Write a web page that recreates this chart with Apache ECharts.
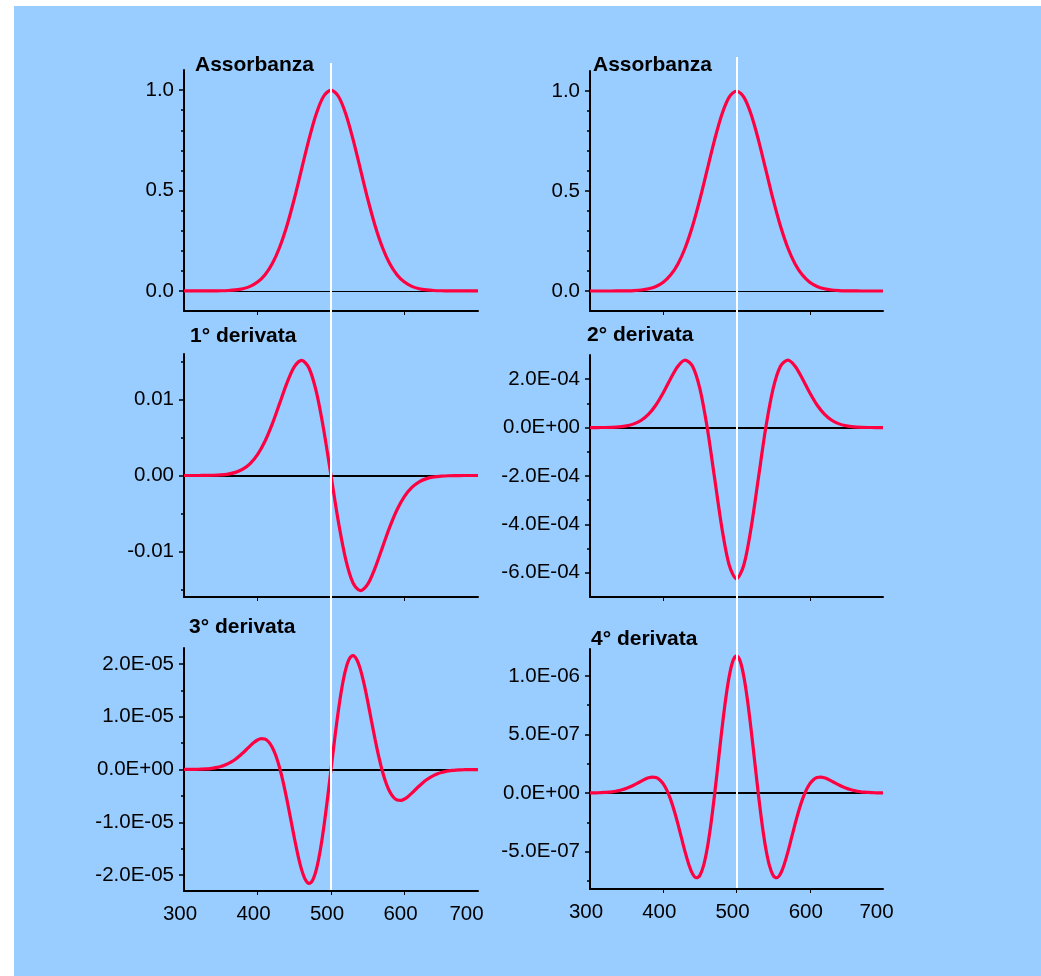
<!DOCTYPE html>
<html><head><meta charset="utf-8">
<script src="https://cdn.jsdelivr.net/npm/echarts@6/dist/echarts.min.js"></script>
<style>
html,body{margin:0;padding:0;background:#fff;}
#chart{position:absolute;left:14px;top:6px;width:1027px;height:970px;}
</style></head><body><div id="chart"></div>
<script>
// ---- data (wavelength, nm) ----
// 10 nm grid for absorbance, 1st and 2nd derivative
const wavelengths10 = [300,310,320,330,340,350,360,370,380,390,400,410,420,430,440,450,460,470,480,490,500,
  510,520,530,540,550,560,570,580,590,600,610,620,630,640,650,660,670,680,690,700];
// 5 nm grid for 3rd and 4th derivative (sharper features)
const wavelengths5 = [300,305,310,315,320,325,330,335,340,345,350,355,360,365,370,375,380,385,390,395,400,
  405,410,415,420,425,430,435,440,445,450,455,460,465,470,475,480,485,490,495,500,
  505,510,515,520,525,530,535,540,545,550,555,560,565,570,575,580,585,590,595,600,
  605,610,615,620,625,630,635,640,645,650,655,660,665,670,675,680,685,690,695,700];

const absorbance = [0,0,0,0.0001,0.0003,0.0009,0.0022,0.0051,0.0111,0.0228,0.0439,0.0796,0.1353,0.2163,0.3247,0.4578,0.6065,0.7548,0.8825,0.9692,1.0,
  0.9692,0.8825,0.7548,0.6065,0.4578,0.3247,0.2163,0.1353,0.0796,0.0439,0.0228,0.0111,0.0051,0.0022,0.0009,0.0003,0.0001,0,0,0];

const deriv1 = [0,0,0,0.00001,0.00003,0.00008,0.00019,0.00041,0.00083,0.00157,0.00275,0.00448,0.00677,0.00946,0.01217,0.01431,0.01516,0.01415,0.01103,0.00606,0,
  -0.00606,-0.01103,-0.01415,-0.01516,-0.01431,-0.01217,-0.00946,-0.00677,-0.00448,-0.00275,-0.00157,-0.00083,-0.00041,-0.00019,-0.00008,-0.00003,-0.00001,0,0,0];

const deriv2 = [0.001e-4,0.002e-4,0.005e-4,0.013e-4,0.031e-4,0.072e-4,0.154e-4,0.304e-4,0.556e-4,0.935e-4,1.442e-4,2.020e-4,2.538e-4,2.788e-4,2.536e-4,1.610e-4,0,-2.064e-4,-4.137e-4,-5.679e-4,-6.25e-4,
  -5.679e-4,-4.137e-4,-2.064e-4,0,1.610e-4,2.536e-4,2.788e-4,2.538e-4,2.020e-4,1.442e-4,0.935e-4,0.556e-4,0.304e-4,0.154e-4,0.072e-4,0.031e-4,0.013e-4,0.005e-4,0.002e-4,0.001e-4];

const deriv3 = [0.001e-5,0.001e-5,0.002e-5,0.003e-5,0.005e-5,0.008e-5,0.012e-5,0.018e-5,0.027e-5,0.040e-5,0.057e-5,0.080e-5,0.111e-5,0.149e-5,0.195e-5,0.250e-5,0.312e-5,0.379e-5,0.447e-5,0.509e-5,0.558e-5,
  0.584e-5,0.577e-5,0.526e-5,0.423e-5,0.260e-5,0.037e-5,-0.244e-5,-0.571e-5,-0.926e-5,-1.285e-5,-1.619e-5,-1.895e-5,-2.083e-5,-2.156e-5,-2.096e-5,-1.896e-5,-1.562e-5,-1.112e-5,-0.578e-5,0,
  0.578e-5,1.112e-5,1.562e-5,1.896e-5,2.096e-5,2.156e-5,2.083e-5,1.895e-5,1.619e-5,1.285e-5,0.926e-5,0.571e-5,0.244e-5,-0.037e-5,-0.260e-5,-0.423e-5,-0.526e-5,-0.577e-5,-0.584e-5,-0.558e-5,
  -0.509e-5,-0.447e-5,-0.379e-5,-0.312e-5,-0.250e-5,-0.195e-5,-0.149e-5,-0.111e-5,-0.080e-5,-0.057e-5,-0.040e-5,-0.027e-5,-0.018e-5,-0.012e-5,-0.008e-5,-0.005e-5,-0.003e-5,-0.002e-5,-0.001e-5,-0.001e-5];

const deriv4 = [0.007e-7,0.011e-7,0.019e-7,0.029e-7,0.046e-7,0.069e-7,0.103e-7,0.150e-7,0.213e-7,0.297e-7,0.402e-7,0.530e-7,0.680e-7,0.846e-7,1.017e-7,1.177e-7,1.302e-7,1.361e-7,1.319e-7,1.138e-7,0.783e-7,
  0.226e-7,-0.543e-7,-1.513e-7,-2.643e-7,-3.862e-7,-5.066e-7,-6.124e-7,-6.896e-7,-7.239e-7,-7.035e-7,-6.207e-7,-4.739e-7,-2.684e-7,-0.173e-7,2.599e-7,5.386e-7,7.923e-7,9.953e-7,11.265e-7,11.719e-7,
  11.265e-7,9.953e-7,7.923e-7,5.386e-7,2.599e-7,-0.173e-7,-2.684e-7,-4.739e-7,-6.207e-7,-7.035e-7,-7.239e-7,-6.896e-7,-6.124e-7,-5.066e-7,-3.862e-7,-2.643e-7,-1.513e-7,-0.543e-7,0.226e-7,0.783e-7,
  1.138e-7,1.319e-7,1.361e-7,1.302e-7,1.177e-7,1.017e-7,0.846e-7,0.680e-7,0.530e-7,0.402e-7,0.297e-7,0.213e-7,0.150e-7,0.103e-7,0.069e-7,0.046e-7,0.029e-7,0.019e-7,0.011e-7,0.007e-7];

// ---- tick labels ----
const xTickLabels = [300,400,500,600,700];
const xTickMarks = [400,500,600];
const absTicks = [0,0.5,1.0];
const absMinor = [0.1,0.2,0.3,0.4,0.6,0.7,0.8,0.9];
const d1Ticks = [-0.01,0,0.01];
const d1Minor = [-0.015,-0.005,0.005,0.015];
const d2Ticks = [-6e-4,-4e-4,-2e-4,0,2e-4];
const d2Minor = [-5e-4,-3e-4,-1e-4,1e-4];
const d3Ticks = [-2e-5,-1e-5,0,1e-5,2e-5];
const d3Minor = [-1.5e-5,-0.5e-5,0.5e-5,1.5e-5];
const d4Ticks = [-5e-7,0,5e-7,1e-6];
const d4Minor = [-7.5e-7,-2.5e-7,2.5e-7,7.5e-7];
const titles = ['Assorbanza','Assorbanza','1° derivata','2° derivata','3° derivata','4° derivata'];
const markerWavelength = 500;

// ---- helpers ----
function sci(v){
  if (Math.abs(v) < 1e-15) return '0.0E+00';
  let e = Math.floor(Math.log10(Math.abs(v)) + 1e-9);
  let m = v / Math.pow(10, e);
  if (Math.abs(m) >= 9.95) { m /= 10; e += 1; }
  return m.toFixed(1) + 'E' + (e < 0 ? '-' : '+') + String(Math.abs(e)).padStart(2,'0');
}
const FONT = '"Liberation Sans", Arial, Helvetica, sans-serif';
const RED = '#ff0040';
const LABEL_SIZE = 20.5;

const panels = [
  {title:titles[0], x:wavelengths10, data:absorbance, min:-0.1, max:1.1, ticks:absTicks, minor:absMinor, fmt:v=>v.toFixed(1), zeroW:1, xLab:false,
   grid:{left:170, top:64, width:294, height:241}, tpos:{left:181, top:49}},
  {title:titles[1], x:wavelengths10, data:absorbance, min:-0.1, max:1.1, ticks:absTicks, minor:absMinor, fmt:v=>v.toFixed(1), zeroW:1, xLab:false,
   grid:{left:576, top:65, width:293, height:240}, tpos:{left:579, top:49}},
  {title:titles[2], x:wavelengths10, data:deriv1, min:-0.016, max:0.016, ticks:d1Ticks, minor:d1Minor, fmt:v=>v.toFixed(2), zeroW:2, xLab:false,
   grid:{left:170, top:348, width:294, height:243}, tpos:{left:176, top:320}},
  {title:titles[3], x:wavelengths10, data:deriv2, min:-7e-4, max:3e-4, ticks:d2Ticks, minor:d2Minor, fmt:sci, zeroW:2, xLab:false,
   grid:{left:576, top:349, width:293, height:242}, tpos:{left:573, top:319}},
  {title:titles[4], x:wavelengths5, data:deriv3, min:-2.3e-5, max:2.3e-5, ticks:d3Ticks, minor:d3Minor, fmt:sci, zeroW:2, xLab:true, pad700:23,
   grid:{left:170, top:642, width:294, height:243}, tpos:{left:175, top:611}},
  {title:titles[5], x:wavelengths5, data:deriv4, min:-8.2e-7, max:1.23e-6, ticks:d4Ticks, minor:d4Minor, fmt:sci, zeroW:2, xLab:true, pad700:13,
   grid:{left:576, top:643, width:293, height:240}, tpos:{left:577, top:623}}
];

const grids = [], xAxes = [], yAxes = [], series = [], titleOpts = [];
panels.forEach((p, i) => {
  grids.push(p.grid);
  titleOpts.push({text:p.title, left:p.tpos.left, top:p.tpos.top, padding:0,
    textStyle:{fontSize:21, fontWeight:'bold', color:'#000', fontFamily:FONT}});
  xAxes.push({
    type:'value', gridIndex:i, min:300, max:700,
    axisLine:{show:true, onZero:false, lineStyle:{color:'#000', width:2}},
    axisTick:{show:true, customValues:xTickMarks, length:4, lineStyle:{color:'#000', width:1}},
    axisLabel:{show:p.xLab, customValues:xTickLabels, margin:13,
      formatter: v => v === 700 ? '{e|' + v + '}' : '{n|' + v + '}',
      rich:{
        n:{fontSize:LABEL_SIZE, color:'#000', fontFamily:FONT, padding:[0,8,0,0]},
        e:{fontSize:LABEL_SIZE, color:'#000', fontFamily:FONT, padding:[0,p.pad700||8,0,0]}
      }},
    splitLine:{show:false}
  });
  yAxes.push({
    type:'value', gridIndex:i, min:p.min, max:p.max, position:'left',
    axisLine:{show:true, onZero:false, lineStyle:{color:'#000', width:2}},
    axisTick:{show:true, customValues:p.ticks, length:5, lineStyle:{color:'#000', width:1.5}},
    axisLabel:{show:true, customValues:p.ticks, formatter:p.fmt, fontSize:LABEL_SIZE, color:'#000', fontFamily:FONT, margin:10},
    splitLine:{show:false}
  });
  yAxes.push({
    type:'value', gridIndex:i, min:p.min, max:p.max, position:'left', offset:0,
    axisLine:{show:false},
    axisTick:{show:true, customValues:p.minor, length:3, lineStyle:{color:'#000', width:1.5}},
    axisLabel:{show:false},
    splitLine:{show:false}
  });
  const pairs = p.x.map((w, k) => [w, p.data[k]]);
  series.push({
    type:'line', xAxisIndex:i, yAxisIndex:2*i, data:pairs, symbol:'none', silent:true, z:1,
    lineStyle:{opacity:0, width:0},
    markLine:{silent:true, symbol:['none','none'], z:2, animation:false, label:{show:false},
      lineStyle:{color:'#000', width:p.zeroW, type:'solid'}, emphasis:{disabled:true},
      data:[{yAxis:0}]}
  });
  series.push({
    type:'line', xAxisIndex:i, yAxisIndex:2*i, data:pairs, symbol:'none', smooth:0.3, z:3,
    lineStyle:{color:RED, width:3.2}
  });
});

// overlay grids for the white marker lines at 500 nm (one per column)
const overlays = [
  {left:170, top:57, width:294, height:827},
  {left:576, top:51, width:293, height:831}
];
overlays.forEach((g, c) => {
  const gi = grids.length;
  grids.push(g);
  xAxes.push({type:'value', gridIndex:gi, min:300, max:700, show:false});
  yAxes.push({type:'value', gridIndex:gi, min:0, max:1, show:false});
  series.push({
    type:'line', xAxisIndex:xAxes.length-1, yAxisIndex:yAxes.length-1,
    data:[[markerWavelength, 0.5]], symbol:'none', silent:true, lineStyle:{opacity:0, width:0}, z:10,
    markLine:{silent:true, symbol:['none','none'], z:10, animation:false, label:{show:false},
      lineStyle:{color:'#fff', width:2, type:'solid'}, emphasis:{disabled:true},
      data:[{xAxis:markerWavelength}]}
  });
});

const chart = echarts.init(document.getElementById('chart'), null, {renderer:'canvas'});
chart.setOption({
  backgroundColor:'#99ccff',
  animation:false,
  title:titleOpts,
  grid:grids,
  xAxis:xAxes,
  yAxis:yAxes,
  series:series
});
</script>
</body></html>
